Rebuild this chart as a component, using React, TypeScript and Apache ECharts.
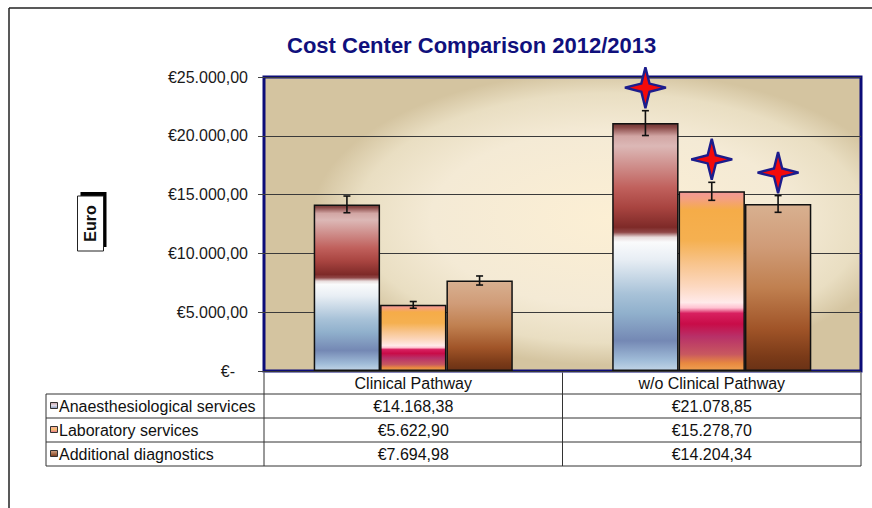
import React, { useEffect, useRef } from 'react';
import * as echarts from 'echarts';

const titleText = 'Cost Center Comparison 2012/2013';
const yAxisName = 'Euro';
const categories = ['Clinical Pathway', 'w/o Clinical Pathway'];
const seriesNames = ['Anaesthesiological services', 'Laboratory services', 'Additional diagnostics'];
const anaesthesiological = [14168.38, 21078.85];
const laboratory = [5622.9, 15278.7];
const additional = [7694.98, 14204.34];
const anaesthesiologicalError = [710, 1055];
const laboratoryError = [285, 765];
const additionalError = [385, 710];
// significance star per category, per series
const significant = [
  [false, false, false],
  [true, true, true],
];
const yMin = 0;
const yMax = 25000;
const yInterval = 5000;

const FONT = "'Liberation Sans', Arial, sans-serif";

function euro(v: number): string {
  const [i, d] = v.toFixed(2).split('.');
  return '€' + i.replace(/\B(?=(\d{3})+(?!\d))/g, '.') + ',' + d;
}

const lg = (stops: [number, string][]) =>
  new echarts.graphic.LinearGradient(0, 0, 0, 1, stops.map(([offset, color]) => ({ offset, color })));

const barGradients = [
  lg([
    [0, '#6e3432'],
    [0.015, '#8a4a48'],
    [0.05, '#d2a6a4'],
    [0.09, '#dcb8b6'],
    [0.26, '#c0605c'],
    [0.34, '#a84440'],
    [0.42, '#7e2a28'],
    [0.44, '#904848'],
    [0.46, '#e8dcdc'],
    [0.48, '#fafbfc'],
    [0.55, '#e8eef4'],
    [0.69, '#a8c2d8'],
    [0.77, '#90b0cc'],
    [0.88, '#7488b4'],
    [0.96, '#a0bcd8'],
    [1, '#c0d4e6'],
  ]),
  lg([
    [0, '#f49898'],
    [0.04, '#f4a080'],
    [0.1, '#f5ac48'],
    [0.27, '#f5b050'],
    [0.4, '#f8c48c'],
    [0.53, '#fcd8c0'],
    [0.62, '#ffeaea'],
    [0.65, '#ffc0d0'],
    [0.68, '#d82060'],
    [0.74, '#c80c48'],
    [0.81, '#b83068'],
    [0.91, '#c85860'],
    [0.96, '#e88840'],
    [1, '#f0a050'],
  ]),
  lg([
    [0, '#d8b090'],
    [0.25, '#d09c78'],
    [0.5, '#c08050'],
    [0.75, '#a05428'],
    [0.92, '#7a3a18'],
    [1, '#6a3216'],
  ]),
];

const keyGradients = [
  lg([[0, '#c8a0a8'], [0.5, '#e0dce8'], [1, '#8098c0']]),
  lg([[0, '#f8a8a0'], [0.5, '#f8c070'], [1, '#e07090']]),
  lg([[0, '#d8a888'], [1, '#7a3a18']]),
];

const valuesBySeries = [anaesthesiological, laboratory, additional];
const errorsBySeries = [anaesthesiologicalError, laboratoryError, additionalError];
const CATEGORY_GAP = 1 / 3;

export default function App() {
  const ref = useRef<HTMLDivElement>(null);

  useEffect(() => {
    const chart = echarts.init(ref.current!, null, { renderer: 'svg' });

    const errData: number[][] = [];
    const starData: number[][] = [];
    valuesBySeries.forEach((vals, s) => {
      vals.forEach((v, c) => {
        errData.push([c, v, errorsBySeries[s][c], s]);
        if (significant[c][s]) starData.push([c, v, errorsBySeries[s][c], s]);
      });
    });

    const barCenter = (api: any) => {
      const c = api.value(0);
      const v = api.value(1);
      const s = api.value(3);
      const band = api.size([1, 0])[0];
      const barW = (band * (1 - CATEGORY_GAP)) / 3;
      return { cx: api.coord([c, v])[0] + (s - 1) * barW, v };
    };

    const option: any = {
      animation: false,
      textStyle: { fontFamily: FONT },
      title: {
        text: titleText,
        left: 282,
        top: 29,
        textStyle: { color: '#10107c', fontSize: 22, fontWeight: 'bold', fontFamily: FONT },
      },
      grid: {
        left: 264,
        right: 11,
        top: 77,
        bottom: 137,
        show: true,
        borderColor: '#0c0c78',
        borderWidth: 3,
        backgroundColor: new echarts.graphic.RadialGradient(0.58, 0.48, 0.5, [
          { offset: 0, color: '#fcefd4' },
          { offset: 0.6, color: '#f4ead5' },
          { offset: 0.85, color: '#e9dec2' },
          { offset: 1, color: '#d4c4a0' },
        ]),
      },
      xAxis: {
        type: 'category',
        data: categories,
        axisLine: { show: false },
        axisTick: { show: false },
        axisLabel: { color: '#111', fontSize: 16, margin: 4, fontFamily: FONT },
      },
      yAxis: {
        type: 'value',
        min: yMin,
        max: yMax,
        interval: yInterval,
        axisLine: { show: false },
        axisTick: { show: true, length: 6, lineStyle: { color: '#444' } },
        splitLine: { show: true, lineStyle: { color: '#3a3a3a', width: 1 } },
        axisLabel: {
          color: '#1a1a1a',
          fontSize: 16,
          margin: 16,
          fontFamily: FONT,
          formatter: (v: number) => (v === 0 ? '{z|€-}' : euro(v)),
          rich: { z: { fontSize: 16, color: '#1a1a1a', padding: [0, 13, 0, 0], fontFamily: FONT } },
        },
      },
      series: [
        ...seriesNames.map((name, i) => ({
          name,
          type: 'bar',
          data: valuesBySeries[i],
          barGap: '0%',
          barCategoryGap: (CATEGORY_GAP * 100).toFixed(1) + '%',
          itemStyle: { color: barGradients[i], borderColor: '#111', borderWidth: 1.5 },
        })),
        {
          type: 'custom',
          name: 'error',
          data: errData,
          encode: { x: 0, y: 1 },
          z: 5,
          renderItem: (params: any, api: any) => {
            const { cx, v } = barCenter(api);
            const e = api.value(2);
            const top = api.coord([api.value(0), v + e])[1];
            const bot = api.coord([api.value(0), v - e])[1];
            const cap = 3.5;
            const st = { stroke: '#111', lineWidth: 1.6 };
            return {
              type: 'group',
              children: [
                { type: 'line', shape: { x1: cx, y1: top, x2: cx, y2: bot }, style: st },
                { type: 'line', shape: { x1: cx - cap, y1: top, x2: cx + cap, y2: top }, style: st },
                { type: 'line', shape: { x1: cx - cap, y1: bot, x2: cx + cap, y2: bot }, style: st },
              ],
            };
          },
        },
        {
          type: 'custom',
          name: 'significance',
          data: starData,
          encode: { x: 0, y: 1 },
          z: 6,
          renderItem: (params: any, api: any) => {
            const { cx, v } = barCenter(api);
            const e = api.value(2);
            const cy = api.coord([api.value(0), v + e])[1] - 23;
            const R = 20.5;
            const r = 5.8;
            const pts: number[][] = [];
            for (let k = 0; k < 8; k++) {
              const ang = -Math.PI / 2 + (k * Math.PI) / 4;
              const rad = k % 2 === 0 ? R : r;
              pts.push([cx + rad * Math.cos(ang), cy + rad * Math.sin(ang)]);
            }
            return {
              type: 'polygon',
              shape: { points: pts },
              style: { fill: '#f40a0a', stroke: '#1c1c8c', lineWidth: 2.4 },
            };
          },
        },
      ],
    };

    chart.setOption(option);

    const centers = categories.map((c) => chart.convertToPixel({ xAxisIndex: 0 }, c) as number);
    const band = centers[1] - centers[0];
    const colEdges = [centers[0] - band / 2, centers[0] + band / 2, centers[1] + band / 2];
    const plotBottom = chart.convertToPixel({ yAxisIndex: 0 }, yMin) as number;
    const tableLeft = 46;
    const rowTop = 394;
    const rowH = 24;
    const lineStyle = { stroke: '#333', lineWidth: 1 };

    const graphic: any[] = [
      // outer frame
      { type: 'line', shape: { x1: 9, y1: 8, x2: 872, y2: 8 }, style: { stroke: '#222', lineWidth: 1.5 } },
      { type: 'line', shape: { x1: 9, y1: 8, x2: 9, y2: 508 }, style: { stroke: '#222', lineWidth: 1.5 } },
      // axis title box with shadow
      { type: 'rect', shape: { x: 80.5, y: 192, width: 26, height: 55 }, style: { fill: '#000' } },
      { type: 'rect', shape: { x: 77.5, y: 196, width: 26, height: 55 }, style: { fill: '#fff', stroke: '#222', lineWidth: 1 } },
      {
        type: 'text',
        x: 90.5,
        y: 223.5,
        rotation: Math.PI / 2,
        style: { text: yAxisName, fill: '#111', font: `bold 16px ${FONT}`, align: 'center', verticalAlign: 'middle' },
      },
    ];

    // table grid lines
    for (let k = 0; k <= seriesNames.length; k++) {
      const y = rowTop + k * rowH;
      graphic.push({ type: 'line', shape: { x1: tableLeft, y1: y, x2: colEdges[2], y2: y }, style: lineStyle });
    }
    graphic.push({
      type: 'line',
      shape: { x1: tableLeft, y1: rowTop, x2: tableLeft, y2: rowTop + seriesNames.length * rowH },
      style: lineStyle,
    });
    colEdges.forEach((x) => {
      graphic.push({
        type: 'line',
        shape: { x1: x, y1: plotBottom + 1.5, x2: x, y2: rowTop + seriesNames.length * rowH },
        style: lineStyle,
      });
    });

    seriesNames.forEach((name, s) => {
      const cy = rowTop + s * rowH + rowH / 2;
      graphic.push({
        type: 'rect',
        shape: { x: 50.5, y: cy - 3.5, width: 7, height: 6 },
        style: { fill: keyGradients[s], stroke: '#333', lineWidth: 1 },
      });
      graphic.push({
        type: 'text',
        x: 59,
        y: cy,
        style: { text: name, fill: '#111', font: `16px ${FONT}`, align: 'left', verticalAlign: 'middle' },
      });
      centers.forEach((cx, c) => {
        graphic.push({
          type: 'text',
          x: cx,
          y: cy,
          style: { text: euro(valuesBySeries[s][c]), fill: '#111', font: `16px ${FONT}`, align: 'center', verticalAlign: 'middle' },
        });
      });
    });

    chart.setOption({ graphic });

    return () => chart.dispose();
  }, []);

  return <div ref={ref} style={{ position: 'absolute', left: 0, top: 0, width: 872, height: 508 }} />;
}
